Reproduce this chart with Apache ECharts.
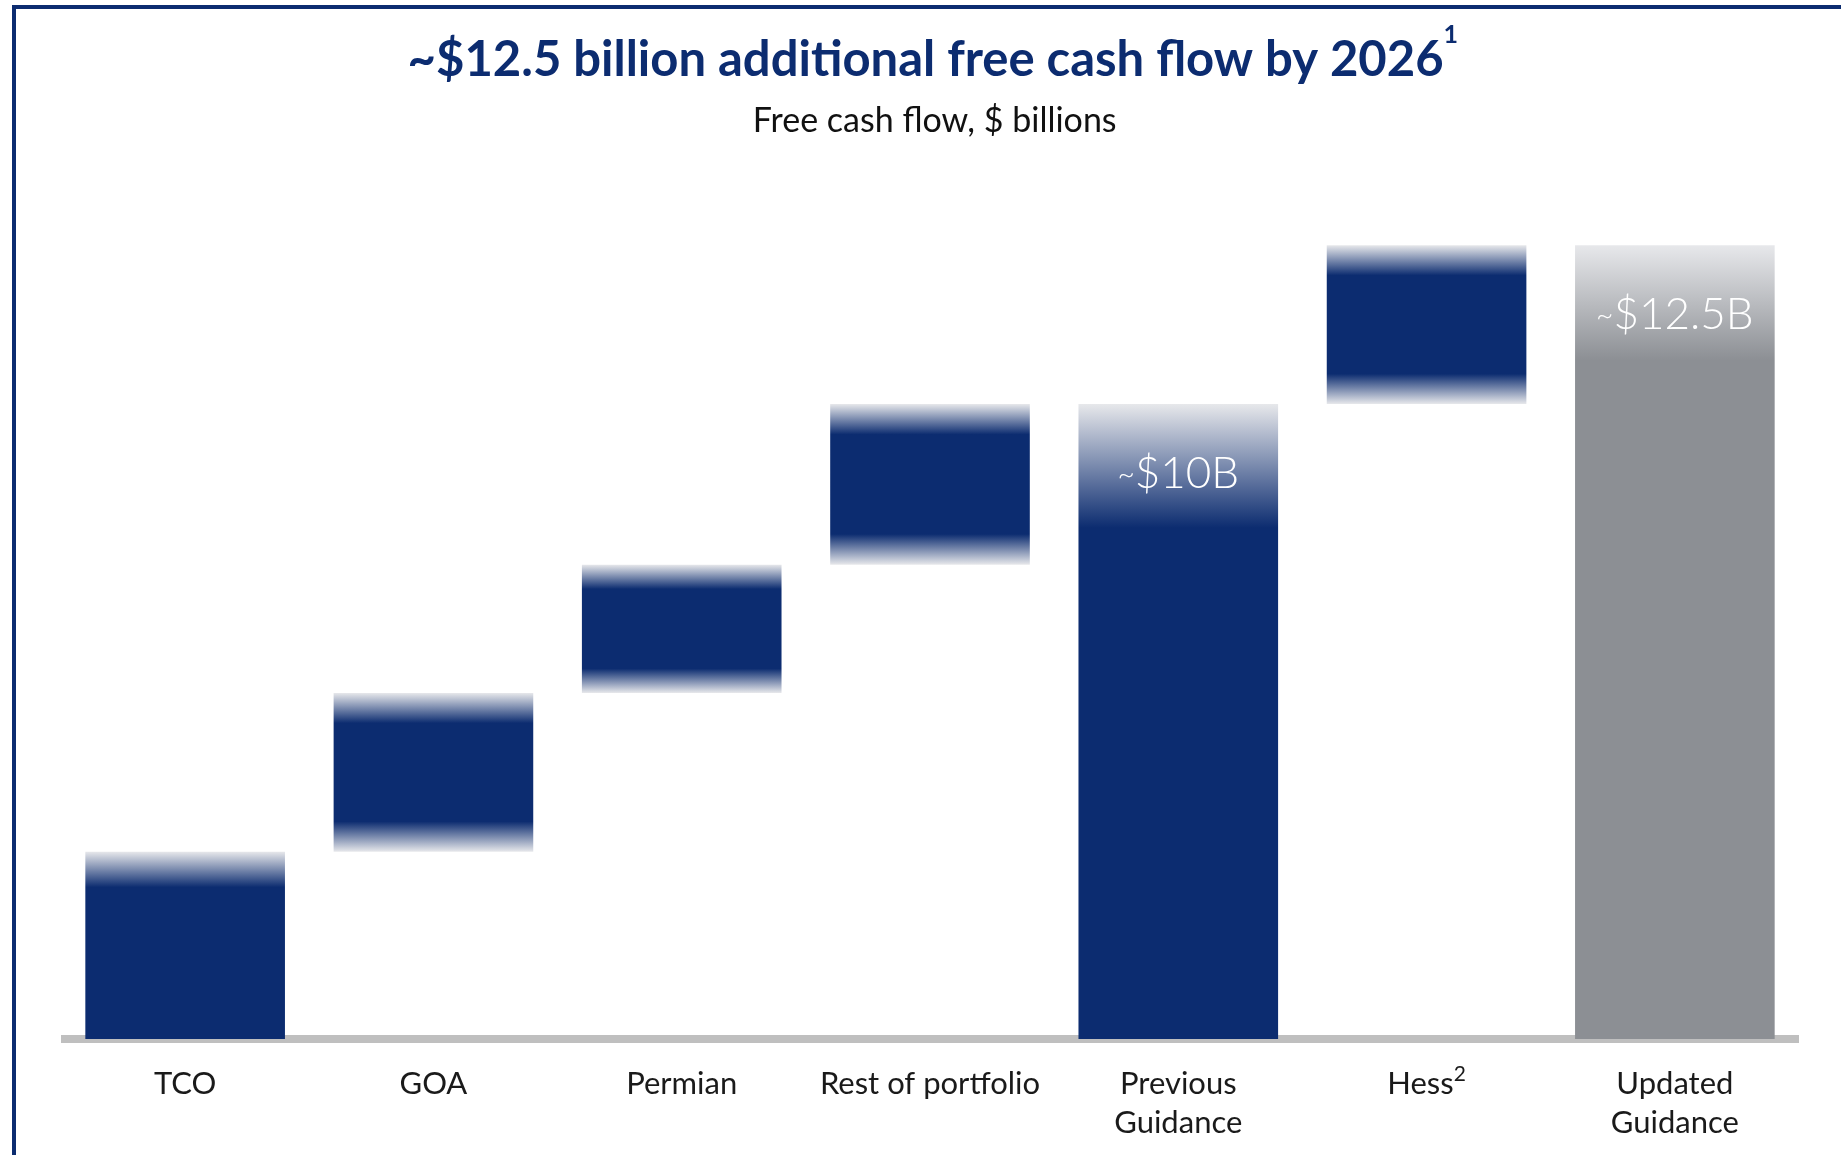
<!DOCTYPE html>
<html>
<head>
<meta charset="utf-8">
<script src="https://cdn.jsdelivr.net/npm/echarts@6/dist/echarts.min.js"></script>
<style>
  html, body { margin: 0; padding: 0; background: #fff; overflow: hidden; }
  #frame {
    position: absolute; left: 12px; top: 5px; right: 0; bottom: -10px;
    border-top: 4px solid #0c2c70; border-left: 4px solid #0c2c70;
  }
  #chart { position: absolute; left: 0; top: 0; width: 1841px; height: 1155px; }
</style>
</head>
<body>
<div id="frame"></div>
<div id="chart"></div>
<script>
// Waterfall: contributions to free cash flow, $ billions
const categories = ['TCO', 'GOA', 'Permian', 'Rest of portfolio', 'Previous\nGuidance', 'Hess', 'Updated\nGuidance'];
const footnotes = ['', '', '', '', '', '2', ''];
const barKinds = ['step', 'step', 'step', 'step', 'total', 'step', 'total'];
const barValues = [2.95, 2.5, 2.02, 2.53, 10, 2.5, 12.5];
const titleText = '~$12.5 billion additional free cash flow by 2026';
const titleFootnote = '1';
const subtitleText = 'Free cash flow, $ billions';

const NAVY = '#0c2c70';
const GRAY = '#8c8f94';
const FADE = '#e7e8eb';

// invisible offsets that lift each step bar onto the running total
const bases = [];
let running = 0;
barKinds.forEach((kind, i) => {
  if (kind === 'total') { bases.push(0); running = barValues[i]; }
  else { bases.push(running); running += barValues[i]; }
});

// soft-edged fill: fades to pale at the top, and at the bottom for floating bars
function barFill(i) {
  const isFinal = i === barKinds.length - 1;
  const solid = isFinal ? GRAY : NAVY;
  const f = isFinal ? 0.145 : (barKinds[i] === 'total' ? 0.195 : 0.19);
  const stops = [{ offset: 0, color: FADE }, { offset: f, color: solid }];
  if (bases[i] > 0) {
    stops.push({ offset: 1 - f, color: solid }, { offset: 1, color: FADE });
  } else {
    stops.push({ offset: 1, color: solid });
  }
  return { type: 'linear', x: 0, y: 0, x2: 0, y2: 1, colorStops: stops };
}

const chart = echarts.init(document.getElementById('chart'), null, { renderer: 'canvas' });

chart.setOption({
  animation: false,
  backgroundColor: 'transparent',
  title: [
    {
      text: '{m|' + titleText + '}{s|' + titleFootnote + '}',
      left: '50.4%',
      textAlign: 'center',
      top: 17,
      textStyle: {
        rich: {
          m: { fontFamily: 'Lato', fontWeight: 'bold', fontSize: 49, color: NAVY, lineHeight: 76 },
          s: { fontFamily: 'Lato', fontWeight: 'bold', fontSize: 25, color: NAVY, lineHeight: 26, verticalAlign: 'top' }
        }
      }
    },
    {
      text: subtitleText,
      left: '50.5%',
      textAlign: 'center',
      top: 98,
      textStyle: { fontFamily: 'Lato', fontWeight: 'normal', fontSize: 34, lineHeight: 36, color: '#111' }
    }
  ],
  grid: { left: 61, right: 42, top: 150, bottom: 116 },
  xAxis: {
    type: 'category',
    data: categories,
    offset: 4,
    axisLine: { lineStyle: { color: '#bfbfbf', width: 8, cap: 'butt' } },
    axisTick: { show: false },
    axisLabel: {
      interval: 0,
      margin: 21,
      fontFamily: 'Lato',
      fontSize: 31,
      lineHeight: 39,
      color: '#1a1a1a',
      formatter: (v, i) => footnotes[i] ? v + '{sup|' + footnotes[i] + '}' : v,
      rich: {
        sup: { fontFamily: 'Lato', fontSize: 21, color: '#1a1a1a', lineHeight: 37, verticalAlign: 'top' }
      }
    }
  },
  yAxis: { type: 'value', min: 0, max: 14, show: false, splitLine: { show: false } },
  series: [
    {
      type: 'bar',
      stack: 'fcf',
      data: bases,
      barCategoryGap: '19.6%',
      itemStyle: { color: 'transparent' },
      silent: true
    },
    {
      type: 'bar',
      stack: 'fcf',
      barCategoryGap: '19.6%',
      data: barValues.map((v, i) => ({
        value: v,
        itemStyle: { color: barFill(i) },
        label: { show: barKinds[i] === 'total' }
      })),
      label: {
        position: 'insideTop',
        distance: 48,
        formatter: p => '{t|~}{v|$' + p.value + 'B}',
        rich: {
          t: { fontFamily: 'Lato', fontWeight: 300, fontSize: 30, color: '#fff' },
          v: { fontFamily: 'Lato', fontWeight: 300, fontSize: 44, color: '#fff' }
        }
      }
    }
  ]
});
</script>
</body>
</html>
